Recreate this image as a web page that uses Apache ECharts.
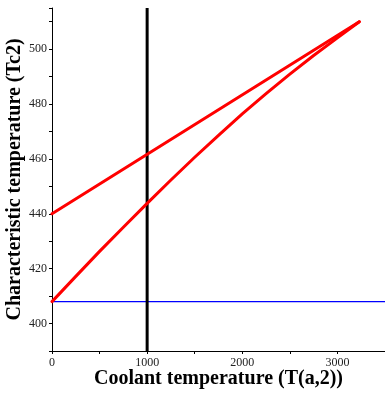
<!DOCTYPE html>
<html>
<head>
<meta charset="utf-8">
<script src="https://cdn.jsdelivr.net/npm/echarts@6/dist/echarts.min.js"></script>
<style>
  html, body { margin: 0; padding: 0; background: #fff; }
  #chart { width: 385px; height: 393px; }
</style>
</head>
<body>
<div id="chart"></div>
<script>
// coolant temperature T(a,2) vs characteristic temperature Tc2
const curveX = [0, 250, 500, 750, 1000, 1250, 1500, 1750, 2000, 2250, 2500, 2750, 3000, 3230]
const curveTc = [408, 417.2, 426.3, 435.1, 443.8, 452.3, 460.6, 468.6, 476.4, 483.8, 490.9, 497.7, 504.1, 510]
const lineX = [0, 3230]
const lineTc = [440, 510]
const markerX = 1000
const baseTc = 408

const xRange = [0, 3500]
const yRange = [390, 515]

const zip = (xs, ys) => xs.map((x, i) => [x, ys[i]])

const serif = '"Liberation Serif", "DejaVu Serif", serif'
const chart = echarts.init(document.getElementById('chart'), null, { renderer: 'canvas' })

chart.setOption({
  backgroundColor: '#fff',
  animation: false,
  grid: { left: 52, right: 0, top: 8, bottom: 42, containLabel: false, outerBoundsMode: 'none' },
  xAxis: {
    type: 'value',
    min: xRange[0],
    max: xRange[1],
    interval: 500,
    name: 'Coolant temperature (T(a,2))',
    nameLocation: 'middle',
    nameGap: 18,
    nameMoveOverlap: false,
    nameTextStyle: { fontFamily: serif, fontWeight: 'bold', fontSize: 20, color: '#000' },
    axisLine: { onZero: false, lineStyle: { color: '#000', width: 1 } },
    axisTick: { length: 3, lineStyle: { color: '#000' } },
    axisLabel: {
      fontFamily: serif, fontSize: 12, color: '#222', margin: 6,
      formatter: v => (v % 1000 === 0 ? String(v) : '')
    },
    splitLine: { show: false }
  },
  yAxis: {
    type: 'value',
    min: yRange[0],
    max: yRange[1],
    interval: 10,
    name: 'Characteristic temperature (Tc2)',
    nameLocation: 'middle',
    nameGap: 27,
    nameMoveOverlap: false,
    nameTextStyle: { fontFamily: serif, fontWeight: 'bold', fontSize: 20, color: '#000' },
    axisLine: { onZero: false, lineStyle: { color: '#000', width: 1 } },
    axisTick: { length: 3, lineStyle: { color: '#000' } },
    axisLabel: {
      fontFamily: serif, fontSize: 12, color: '#222', margin: 5,
      formatter: v => (v % 20 === 0 ? String(v) : '')
    },
    splitLine: { show: false }
  },
  series: [
    {
      type: 'line',
      data: zip(xRange, [baseTc, baseTc]),
      showSymbol: false,
      lineStyle: { color: '#0000ff', width: 1.2 }
    },
    {
      type: 'line',
      data: [[markerX, yRange[0]], [markerX, yRange[1]]],
      showSymbol: false,
      lineStyle: { color: '#000', width: 3 }
    },
    {
      type: 'line',
      data: zip(lineX, lineTc),
      showSymbol: false,
      lineStyle: { color: '#ff0000', width: 3, cap: 'round' }
    },
    {
      type: 'line',
      data: zip(curveX, curveTc),
      showSymbol: false,
      lineStyle: { color: '#ff0000', width: 3, cap: 'round', join: 'round' }
    }
  ]
})
</script>
</body>
</html>
